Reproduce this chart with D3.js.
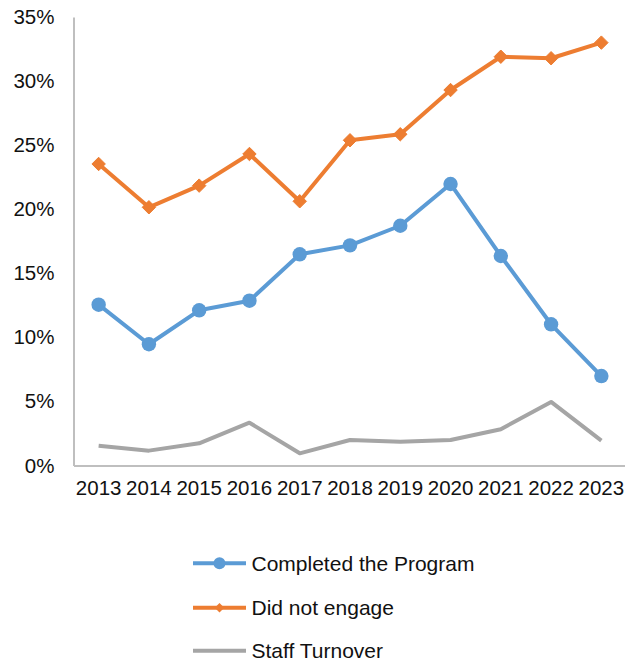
<!DOCTYPE html>
<html><head><meta charset="utf-8">
<script src="https://cdn.jsdelivr.net/npm/d3@7"></script>
<style>body{margin:0;background:#fff}svg{display:block}</style>
</head><body>
<svg id="chart" width="625" height="660"></svg>
<script>
const years = ["2013","2014","2015","2016","2017","2018","2019","2020","2021","2022","2023"];
const completed = [12.55, 9.46, 12.11, 12.86, 16.48, 17.18, 18.71, 21.97, 16.35, 11.02, 6.98];
const notEngaged = [23.53, 20.15, 21.84, 24.31, 20.62, 25.38, 25.85, 29.3, 31.9, 31.78, 33.0];
const staffTurnover = [1.55, 1.16, 1.73, 3.34, 0.95, 1.99, 1.86, 1.99, 2.83, 4.96, 1.94];
const yTicks = [0, 5, 10, 15, 20, 25, 30, 35];
const seriesNames = ["Completed the Program", "Did not engage", "Staff Turnover"];
const seriesColors = ["#5B9BD5", "#ED7D31", "#A5A5A5"];

const svg = d3.select("#chart");
const font = "'Liberation Sans', Arial, sans-serif";
const x = d3.scaleBand().domain(years).range([73.5, 626.5]);
const y = d3.scaleLinear().domain([0, 35]).range([465.5, 17]);

// axes
const yAxis = svg.append("g").attr("transform", "translate(73.5,0)")
  .call(d3.axisLeft(y).tickValues(yTicks).tickFormat(d => d + "%").tickSize(0).tickPadding(19));
yAxis.select(".domain").attr("stroke", "#BFBFBF").attr("stroke-width", 2);
yAxis.selectAll("text").attr("font-family", font).attr("font-size", 20.5).attr("fill", "#111");

const xAxis = svg.append("g").attr("transform", "translate(0,465.5)")
  .call(d3.axisBottom(x).tickSize(0).tickPadding(15));
xAxis.select(".domain").attr("stroke", "#BFBFBF").attr("stroke-width", 2);
xAxis.selectAll("text").attr("font-family", font).attr("font-size", 20.5).attr("fill", "#111");

const cx = d => x(d) + x.bandwidth() / 2;
const data = [completed, notEngaged, staffTurnover];
const line = d3.line().x((d, i) => cx(years[i])).y(d => y(d));

data.forEach((vals, si) => {
  svg.append("path").datum(vals).attr("d", line)
    .attr("fill", "none").attr("stroke", seriesColors[si]).attr("stroke-width", 4)
    .attr("stroke-linejoin", "round");
});
svg.append("g").selectAll("circle").data(completed).join("circle")
  .attr("cx", (d, i) => cx(years[i])).attr("cy", d => y(d)).attr("r", 7.2)
  .attr("fill", seriesColors[0]);
const diamond = d3.symbol().type(d3.symbolDiamond2).size(115);
svg.append("g").selectAll("path").data(notEngaged).join("path")
  .attr("d", diamond)
  .attr("transform", (d, i) => `translate(${cx(years[i])},${y(d)})`)
  .attr("fill", seriesColors[1]).attr("stroke", seriesColors[1]).attr("stroke-width", 1)
  .attr("stroke-linejoin", "round");

// legend
const legY = [563.3, 607.7, 650.7];
seriesNames.forEach((name, i) => {
  const g = svg.append("g").attr("transform", `translate(0,${legY[i]})`);
  g.append("line").attr("x1", 193).attr("x2", 246).attr("y1", 0).attr("y2", 0)
    .attr("stroke", seriesColors[i]).attr("stroke-width", 4);
  if (i === 0) g.append("circle").attr("cx", 219.5).attr("cy", 0).attr("r", 6).attr("fill", seriesColors[0]);
  if (i === 1) g.append("path").attr("d", d3.symbol().type(d3.symbolDiamond2).size(58)())
    .attr("transform", "translate(219.5,0)").attr("fill", seriesColors[1]);
  g.append("text").attr("x", 251.5).attr("y", 0).attr("dy", "0.35em")
    .attr("font-family", font).attr("font-size", 21).attr("fill", "#111").text(name);
});
</script>
</body></html>
